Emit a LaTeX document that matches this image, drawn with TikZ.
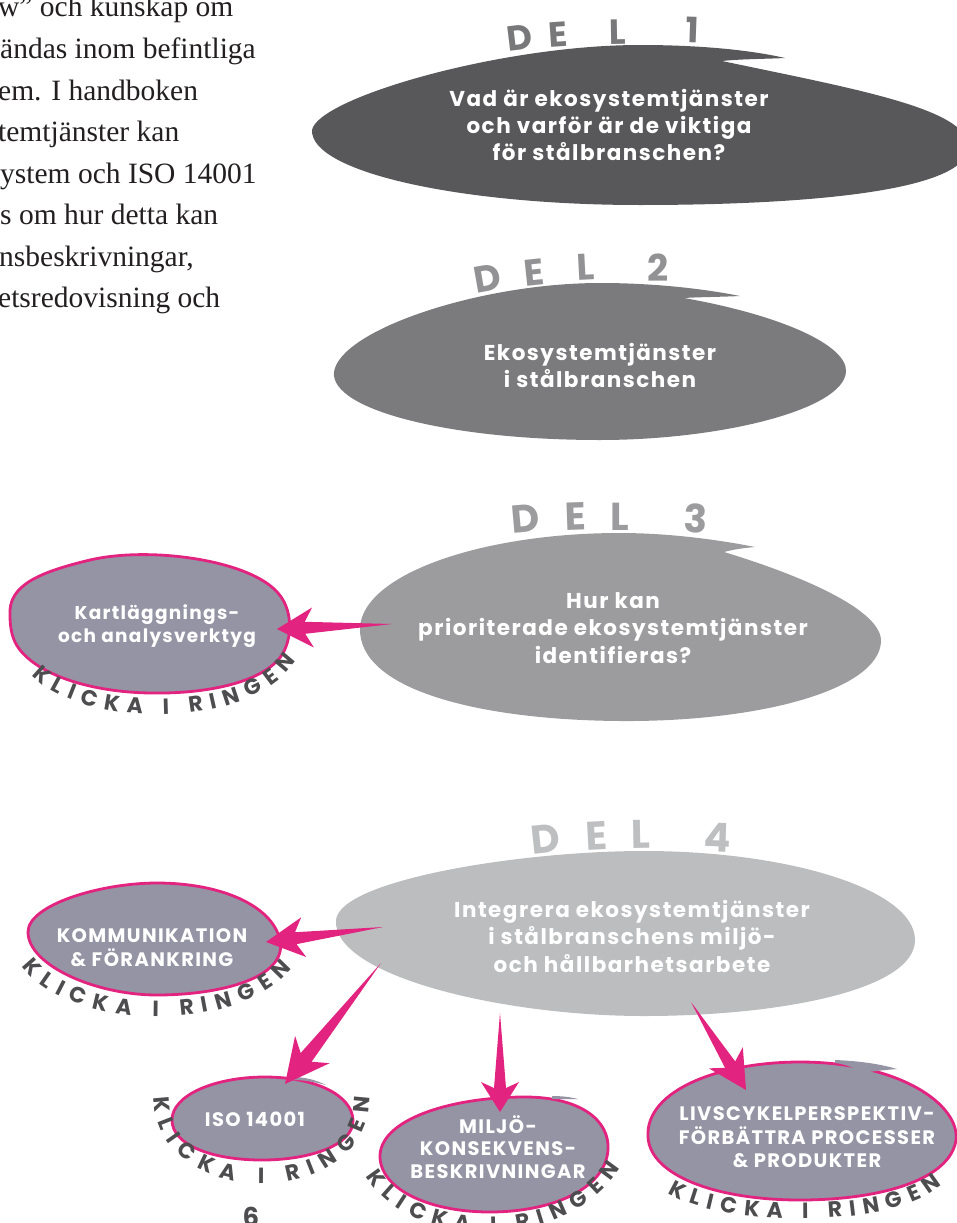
\documentclass[tikz,border=0pt]{standalone}
\usepackage{fontspec}
\setmainfont{Liberation Serif}
\newfontfamily\popfont{Poppins}[Ligatures=NoCommon]
\newfontfamily\bubfont{Poppins}[LetterSpace=7,Ligatures=NoCommon]
\usetikzlibrary{calc,decorations.text}
\definecolor{delA}{RGB}{88,88,90}
\definecolor{delB}{RGB}{123,123,125}
\definecolor{delC}{RGB}{156,156,158}
\definecolor{delD}{RGB}{188,189,191}
\definecolor{labA}{RGB}{120,120,122}
\definecolor{labB}{RGB}{146,146,148}
\definecolor{labC}{RGB}{156,156,158}
\definecolor{labD}{RGB}{190,191,193}
\definecolor{pinkc}{RGB}{226,35,127}
\definecolor{subfill}{RGB}{149,148,164}
\definecolor{klick}{RGB}{77,77,79}
\definecolor{bodyc}{RGB}{35,31,32}
\newcommand{\ml}[1]{\begin{tabular}[t]{@{}c@{}}#1\end{tabular}}
\newcommand{\pinkarrow}[6]{%
  \fill[pinkc] (#1) -- ($(#2)!#3pt!(#1)!#6pt!90:(#1)$) -- ($(#2)!#4pt!(#1)!#5pt!90:(#1)$) -- (#2)
   -- ($(#2)!#4pt!(#1)!#5pt!-90:(#1)$) -- ($(#2)!#3pt!(#1)!#6pt!-90:(#1)$) -- cycle;}
\begin{document}
\begin{tikzpicture}[x=1pt,y=-1pt,
  body/.style={font=\fontsize{29.5}{41.5}\selectfont, text=bodyc, inner sep=0, anchor=base west},
  bubt/.style={text=white, font=\bubfont\bfseries\fontsize{21.5}{27.5}\selectfont, inner sep=0, anchor=base},
  subt/.style={text=white, font=\bubfont\bfseries\fontsize{18.5}{23}\selectfont, inner sep=0, anchor=base},
  upt/.style={text=white, font=\bubfont\bfseries\fontsize{19.5}{22.5}\selectfont, inner sep=0, anchor=base},
  dellab/.style={font=\popfont\bfseries\fontsize{#1}{#1}\selectfont, inner sep=0, anchor=base},
  subbub/.style={fill=subfill, draw=pinkc, line width=2.8pt},
  klickpath/.style={decorate, decoration={text along path, text align={fit to path}, text color=klick,
     text={|\popfont\bfseries\fontsize{22}{22}\selectfont|KLICKA I RINGEN}}}
]
\useasboundingbox (0,0) rectangle (957,1223);
\clip (0,0) rectangle (957,1223);

% ---------- body text (cropped paragraph) ----------
\node[body] (p1) at (-2,17) {w” och kunskap om};
\node[body] (p2) at (0,58.5) {ändas inom befintliga};
\node[body] (p3) at (-2,100) {em. I handboken};
\node[body] (p4) at (-2,141.5) {temtjänster kan};
\node[body] (p5) at (0,183) {ystem och ISO 14001};
\node[body] (p6) at (0,224.5) {s om hur detta kan};
\node[body] (p7) at (-1,266) {nsbeskrivningar,};
\node[body] (p8) at (-2,307.5) {etsredovisning och};

% ---------- main bubbles ----------
\fill[delA] (312,130) .. controls (318,98) and (500,45) .. (640,45)
  .. controls (700,45) and (750,50) .. (785,58)
  .. controls (765,59) and (740,59) .. (722,61)
  .. controls (860,90) and (975,110) .. (968,150)
  .. controls (960,195) and (780,205) .. (640,205)
  .. controls (460,205) and (310,172) .. (312,130) -- cycle;
\fill[delB] (334,372) .. controls (340,330) and (480,283) .. (600,283)
  .. controls (650,283) and (700,288) .. (740,296)
  .. controls (720,297) and (700,297) .. (684,298)
  .. controls (780,315) and (848,345) .. (846,372)
  .. controls (843,410) and (720,440) .. (600,440)
  .. controls (450,440) and (330,410) .. (334,372) -- cycle;
\fill[delC] (360,628) .. controls (362,575) and (480,533) .. (620,533)
  .. controls (670,533) and (720,540) .. (755,547)
  .. controls (745,548) and (735,549) .. (724,552)
  .. controls (800,575) and (883,610) .. (881,642)
  .. controls (878,690) and (760,722) .. (620,721)
  .. controls (480,720) and (358,690) .. (360,628) -- cycle;
\fill[delD] (336,920) .. controls (340,880) and (520,851) .. (644,851)
  .. controls (790,851) and (915,890) .. (915,940)
  .. controls (915,990) and (780,1016) .. (644,1016)
  .. controls (500,1016) and (332,975) .. (336,920) -- cycle;

% ---------- DEL labels ----------
\node[dellab=35, text=labA, rotate=7] (d1a) at (521,50) {D};
\node[dellab=35, text=labA, rotate=4] (d1b) at (559,47) {E};
\node[dellab=35, text=labA, rotate=1] (d1c) at (618,44) {L};
\node[dellab=35, text=labA, rotate=-2] (d1d) at (692,43) {1};
\node[dellab=37, text=labB, rotate=10] (d2a) at (490,291) {D};
\node[dellab=37, text=labB, rotate=6] (d2b) at (535,285) {E};
\node[dellab=37, text=labB, rotate=3] (d2c) at (586,280) {L};
\node[dellab=37, text=labB, rotate=0] (d2d) at (658,281) {2};
\node[dellab=39, text=labC, rotate=5] (d3a) at (527,532) {D};
\node[dellab=39, text=labC, rotate=2] (d3b) at (576,530) {E};
\node[dellab=39, text=labC, rotate=0] (d3c) at (620,530) {L};
\node[dellab=39, text=labC, rotate=-2] (d3d) at (695,533) {3};
\node[dellab=40, text=labD, rotate=6] (d4a) at (547,853) {D};
\node[dellab=40, text=labD, rotate=3] (d4b) at (597,850) {E};
\node[dellab=40, text=labD, rotate=1] (d4c) at (641,848) {L};
\node[dellab=40, text=labD, rotate=-2] (d4d) at (717,852) {4};

% ---------- sub bubbles ----------
\path[subbub] (10,615) .. controls (8,585) and (40,572) .. (90,560)
  .. controls (150,546) and (250,560) .. (278,593)
  .. controls (295,612) and (292,645) .. (278,660)
  .. controls (255,685) and (200,694) .. (150,693)
  .. controls (90,692) and (40,675) .. (20,650)
  .. controls (12,640) and (10,628) .. (10,615) -- cycle;
\path[subbub] (28,932) .. controls (28,905) and (100,883) .. (157,883)
  .. controls (220,883) and (272,905) .. (280,940)
  .. controls (288,978) and (220,995) .. (157,995)
  .. controls (95,995) and (28,965) .. (28,932) -- cycle;
\path[subbub] (172,1120) .. controls (172,1095) and (215,1077) .. (265,1077)
  .. controls (315,1077) and (352,1095) .. (353,1120)
  .. controls (354,1145) and (310,1160) .. (262,1160)
  .. controls (212,1160) and (172,1145) .. (172,1120) -- cycle;
\fill[subfill] (292,1077) .. controls (305,1077) and (316,1080) .. (326,1085) .. controls (315,1082) and (305,1080) .. (292,1080) -- cycle;
\path[subbub] (380,1158) .. controls (378,1120) and (450,1097) .. (525,1097)
  .. controls (580,1097) and (610,1120) .. (608,1150)
  .. controls (605,1190) and (550,1212) .. (490,1212)
  .. controls (430,1212) and (382,1190) .. (380,1158) -- cycle;
\fill[subfill] (552,1096) .. controls (562,1096) and (570,1097) .. (578,1099) .. controls (570,1099) and (562,1099) .. (552,1099) -- cycle;
\path[subbub] (648,1137) .. controls (645,1090) and (720,1062) .. (800,1062)
  .. controls (900,1062) and (960,1105) .. (956,1140)
  .. controls (950,1180) and (880,1200) .. (800,1200)
  .. controls (715,1200) and (650,1175) .. (648,1137) -- cycle;
\fill[subfill] (835,1060) .. controls (860,1061) and (880,1064) .. (897,1069) .. controls (885,1070) and (875,1071) .. (862,1073) .. controls (855,1068) and (845,1064) .. (835,1063) -- cycle;

% ---------- KLICKA I RINGEN ----------
\path[klickpath] (32,675) .. controls (75,725) and (245,735) .. (296,661);
\path[klickpath] (22,966) .. controls (65,1028) and (235,1038) .. (292,968);
\path[klickpath] (154,1097) .. controls (154,1212) and (370,1212) .. (370,1097);
\path[klickpath] (366,1176) .. controls (410,1250) and (565,1255) .. (620,1168);
\path[klickpath] (668,1193) .. controls (715,1225) and (890,1232) .. (942,1185);

% ---------- arrows ----------
\coordinate (s3) at (392,624);  \coordinate (e3) at (277,629);
\coordinate (s4a) at (383,927); \coordinate (e4a) at (266,942);
\coordinate (s4b) at (381,963); \coordinate (e4b) at (285,1084);
\coordinate (s4c) at (500,1013); \coordinate (e4c) at (500,1112);
\coordinate (s4d) at (691,1002); \coordinate (e4d) at (746,1090);
\pinkarrow{s3}{e3}{28}{36}{20}{6}
\pinkarrow{s4a}{e4a}{30}{38}{20}{6}
\pinkarrow{s4b}{e4b}{34}{44}{22}{7}
\pinkarrow{s4c}{e4c}{24}{30}{19}{6}
\pinkarrow{s4d}{e4d}{30}{38}{20}{6}

% ---------- texts ----------
\node[bubt] (t1) at (609,106) {\ml{Vad är ekosystemtjänster\\och varför är de viktiga\\för stålbranschen?}};
\node[bubt] (t2) at (600,360) {\ml{Ekosystemtjänster\\i stålbranschen}};
\node[bubt] (t3) at (613,608) {\ml{Hur kan\\prioriterade ekosystemtjänster\\identifieras?}};
\node[bubt] (t4) at (632,917) {\ml{Integrera ekosystemtjänster\\i stålbranschens miljö-\\och hållbarhetsarbete}};
\node[subt] (tk) at (157,619) {\ml{Kartläggnings-\\och analysverktyg}};
\node[upt] (tkom) at (152,942) {\ml{KOMMUNIKATION\\\& FÖRANKRING}};
\node[upt] (tiso) at (255,1126) {ISO 14001};
\node[upt] (tmil) at (498,1133) {\ml{MILJÖ-\\KONSEKVENS-\\BESKRIVNINGAR}};
\node[upt] (tliv) at (807,1120) {\ml{LIVSCYKELPERSPEKTIV-\\FÖRBÄTTRA PROCESSER\\\& PRODUKTER}};
\node[font=\popfont\bfseries\fontsize{26}{26}\selectfont, text=klick, inner sep=0, anchor=north] (pg) at (251,1207) {6};
\end{tikzpicture}
\end{document}
